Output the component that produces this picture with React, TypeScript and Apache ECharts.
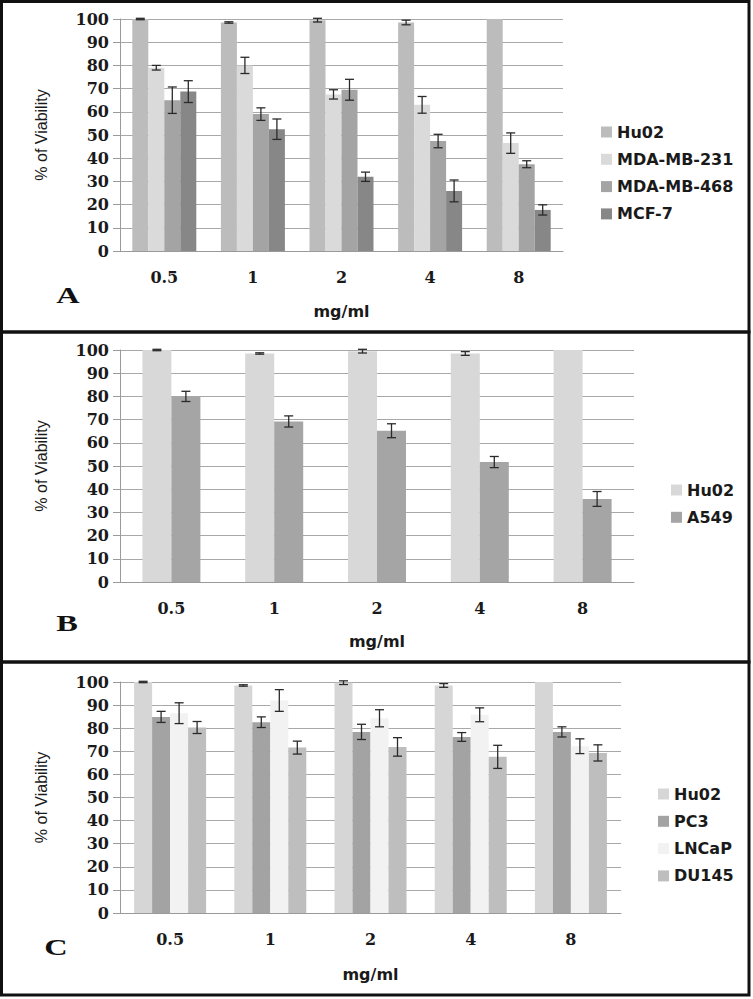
import React, { useEffect, useRef } from "react";
import * as echarts from "echarts";

const categories = ["0.5", "1", "2", "4", "8"];
const yTicks = { min: 0, max: 100, interval: 10 };

// Panel A
const hu02A = [100, 98.5, 99.5, 98.5, 100];
const hu02AErr = [0.3, 0.3, 0.8, 1.0, 0];
const mda231 = [79, 80, 67.5, 63, 46.5];
const mda231Err = [1, 3.5, 2, 3.6, 4.4];
const mda468 = [65, 59, 69.5, 47.4, 37.4];
const mda468Err = [5.7, 2.7, 4.5, 2.9, 1.5];
const mcf7 = [68.7, 52.5, 32, 25.9, 17.7];
const mcf7Err = [4.7, 4.4, 2, 4.7, 2.2];

// Panel B
const hu02B = [100, 98.5, 99.5, 98.5, 100];
const hu02BErr = [0.3, 0.3, 0.8, 0.8, 0];
const a549 = [80, 69.2, 65.2, 51.7, 35.8];
const a549Err = [2.2, 2.4, 3, 2.4, 3.2];

// Panel C
const hu02C = [100, 98.5, 99.7, 98.5, 100];
const hu02CErr = [0.3, 0.3, 0.8, 0.8, 0];
const pc3 = [84.9, 82.6, 78.4, 76.2, 78.4];
const pc3Err = [2.4, 2.3, 3.3, 1.9, 2.2];
const lncap = [86.5, 92, 84.3, 85.8, 72.2];
const lncapErr = [4.5, 4.7, 3.7, 3, 3.2];
const du145 = [80.3, 71.6, 71.9, 67.6, 69.3];
const du145Err = [2.6, 2.8, 4, 5, 3.5];

type SDef = { name: string; values: number[]; err: number[]; color: string };

const panels: {
  letter: string;
  series: SDef[];
}[] = [
  {
    letter: "A",
    series: [
      { name: "Hu02#A", values: hu02A, err: hu02AErr, color: "#bcbcbc" },
      { name: "MDA-MB-231", values: mda231, err: mda231Err, color: "#dadada" },
      { name: "MDA-MB-468", values: mda468, err: mda468Err, color: "#a4a4a4" },
      { name: "MCF-7", values: mcf7, err: mcf7Err, color: "#878787" },
    ],
  },
  {
    letter: "B",
    series: [
      { name: "Hu02#B", values: hu02B, err: hu02BErr, color: "#d8d8d8" },
      { name: "A549", values: a549, err: a549Err, color: "#a5a5a5" },
    ],
  },
  {
    letter: "C",
    series: [
      { name: "Hu02#C", values: hu02C, err: hu02CErr, color: "#d6d6d6" },
      { name: "PC3", values: pc3, err: pc3Err, color: "#a3a3a3" },
      { name: "LNCaP", values: lncap, err: lncapErr, color: "#f2f2f2" },
      { name: "DU145", values: du145, err: du145Err, color: "#bebebe" },
    ],
  },
];

const layout = [
  { left: 120, width: 443, top: 19, height: 232, barWidth: 16, legendLeft: 596, legendTop: 119, letterX: 68, letterY: 295, nameGap: 52 },
  { left: 120, width: 514, top: 350, height: 232, barWidth: 29, legendLeft: 666, legendTop: 477, letterX: 67, letterY: 623, nameGap: 51 },
  { left: 120, width: 501, top: 682, height: 231, barWidth: 18, legendLeft: 653, legendTop: 781, letterX: 56, letterY: 947, nameGap: 53 },
];

const boxes = [
  { y1: 1.5, y2: 332 },
  { y1: 332, y2: 662 },
  { y1: 662, y2: 995 },
];

export default function App() {
  const ref = useRef<HTMLDivElement>(null);
  useEffect(() => {
    if (!ref.current) return;
    const chart = echarts.init(ref.current, null, { renderer: "svg" });
    const grid: any[] = [];
    const xAxis: any[] = [];
    const yAxis: any[] = [];
    const legend: any[] = [];
    const series: any[] = [];
    const graphic: any[] = [];

    panels.forEach((p, pi) => {
      const L = layout[pi];
      grid.push({ left: L.left, width: L.width, top: L.top, height: L.height, containLabel: false });
      xAxis.push({
        type: "category",
        gridIndex: pi,
        data: categories,
        axisTick: { show: false },
        axisLine: { lineStyle: { color: "#9a9a9a", width: 1 } },
        axisLabel: { margin: 18, fontFamily: "DejaVu Serif", fontWeight: "bold", fontSize: 16, color: "#1a1a1a" },
        name: "mg/ml",
        nameLocation: "middle",
        nameGap: L.nameGap,
        nameTextStyle: { fontFamily: "DejaVu Sans", fontWeight: "bold", fontSize: 16, color: "#1a1a1a" },
      });
      yAxis.push({
        type: "value",
        gridIndex: pi,
        min: yTicks.min,
        max: yTicks.max,
        interval: yTicks.interval,
        axisLine: { show: true, lineStyle: { color: "#9a9a9a", width: 1 } },
        axisTick: { show: true, inside: false, length: 7, lineStyle: { color: "#9a9a9a" } },
        splitLine: { show: true, lineStyle: { color: "#a8a8a8", width: 1 } },
        axisLabel: { margin: 11, fontFamily: "DejaVu Serif", fontWeight: "bold", fontSize: 16, color: "#1a1a1a" },
        name: "% of Viability",
        nameLocation: "middle",
        nameRotate: 90,
        nameGap: 71,
        nameTextStyle: { fontFamily: "Liberation Sans", fontSize: 16, color: "#1a1a1a" },
      });
      legend.push({
        orient: "vertical",
        left: L.legendLeft,
        top: L.legendTop,
        itemWidth: 11,
        itemHeight: 11,
        itemGap: 11.3,
        icon: "rect",
        data: p.series.map((s) => s.name),
        formatter: (name: string) => name.replace(/#.*/, ""),
        textStyle: { fontFamily: "DejaVu Sans", fontWeight: "bold", fontSize: 16, color: "#1a1a1a" },
        selectedMode: false,
      });
      const n = p.series.length;
      p.series.forEach((s, si) => {
        series.push({
          type: "bar",
          name: s.name,
          xAxisIndex: pi,
          yAxisIndex: pi,
          data: s.values,
          barWidth: L.barWidth,
          barGap: "0%",
          itemStyle: { color: s.color },
          z: 2,
        });
        const offset = (si - (n - 1) / 2) * L.barWidth;
        const errData = s.values
          .map((v, i) => [i, v - s.err[i], v + s.err[i]])
          .filter((d, i) => s.err[i] > 0);
        series.push({
          type: "custom",
          name: s.name + "_err",
          xAxisIndex: pi,
          yAxisIndex: pi,
          data: errData,
          encode: { x: 0, y: [1, 2] },
          z: 5,
          clip: false,
          renderItem: (params: any, api: any) => {
            const ci = api.value(0);
            const lo = api.value(1);
            const hi = api.value(2);
            const p1 = api.coord([ci, lo]);
            const p2 = api.coord([ci, hi]);
            const x = p1[0] + offset;
            const style = { stroke: "#2a2a2a", lineWidth: 1.3, fill: null };
            const hw = 4.5;
            return {
              type: "group",
              children: [
                { type: "line", shape: { x1: x, y1: p1[1], x2: x, y2: p2[1] }, style },
                { type: "line", shape: { x1: x - hw, y1: p1[1], x2: x + hw, y2: p1[1] }, style },
                { type: "line", shape: { x1: x - hw, y1: p2[1], x2: x + hw, y2: p2[1] }, style },
              ],
            };
          },
        });
      });
      graphic.push({
        type: "text",
        x: L.letterX,
        y: L.letterY,
        scaleX: 1.35,
        style: {
          text: p.letter,
          fontFamily: "Liberation Serif",
          fontWeight: "bold",
          fontSize: 24,
          fill: "#111",
          textAlign: "center",
          textVerticalAlign: "middle",
        },
        z: 10,
      });
      const b = boxes[pi];
      graphic.push({
        type: "rect",
        shape: { x: 1.5, y: b.y1, width: 747.5, height: b.y2 - b.y1 },
        style: { fill: null, stroke: "#111", lineWidth: 3 },
        z: 10,
      });
    });

    chart.setOption({
      animation: false,
      backgroundColor: "#ffffff",
      grid,
      xAxis,
      yAxis,
      legend,
      series,
      graphic,
    });
    return () => chart.dispose();
  }, []);
  return (
    <div
      ref={ref}
      style={{ position: "absolute", left: 0, top: 0, width: 753, height: 999 }}
    />
  );
}
